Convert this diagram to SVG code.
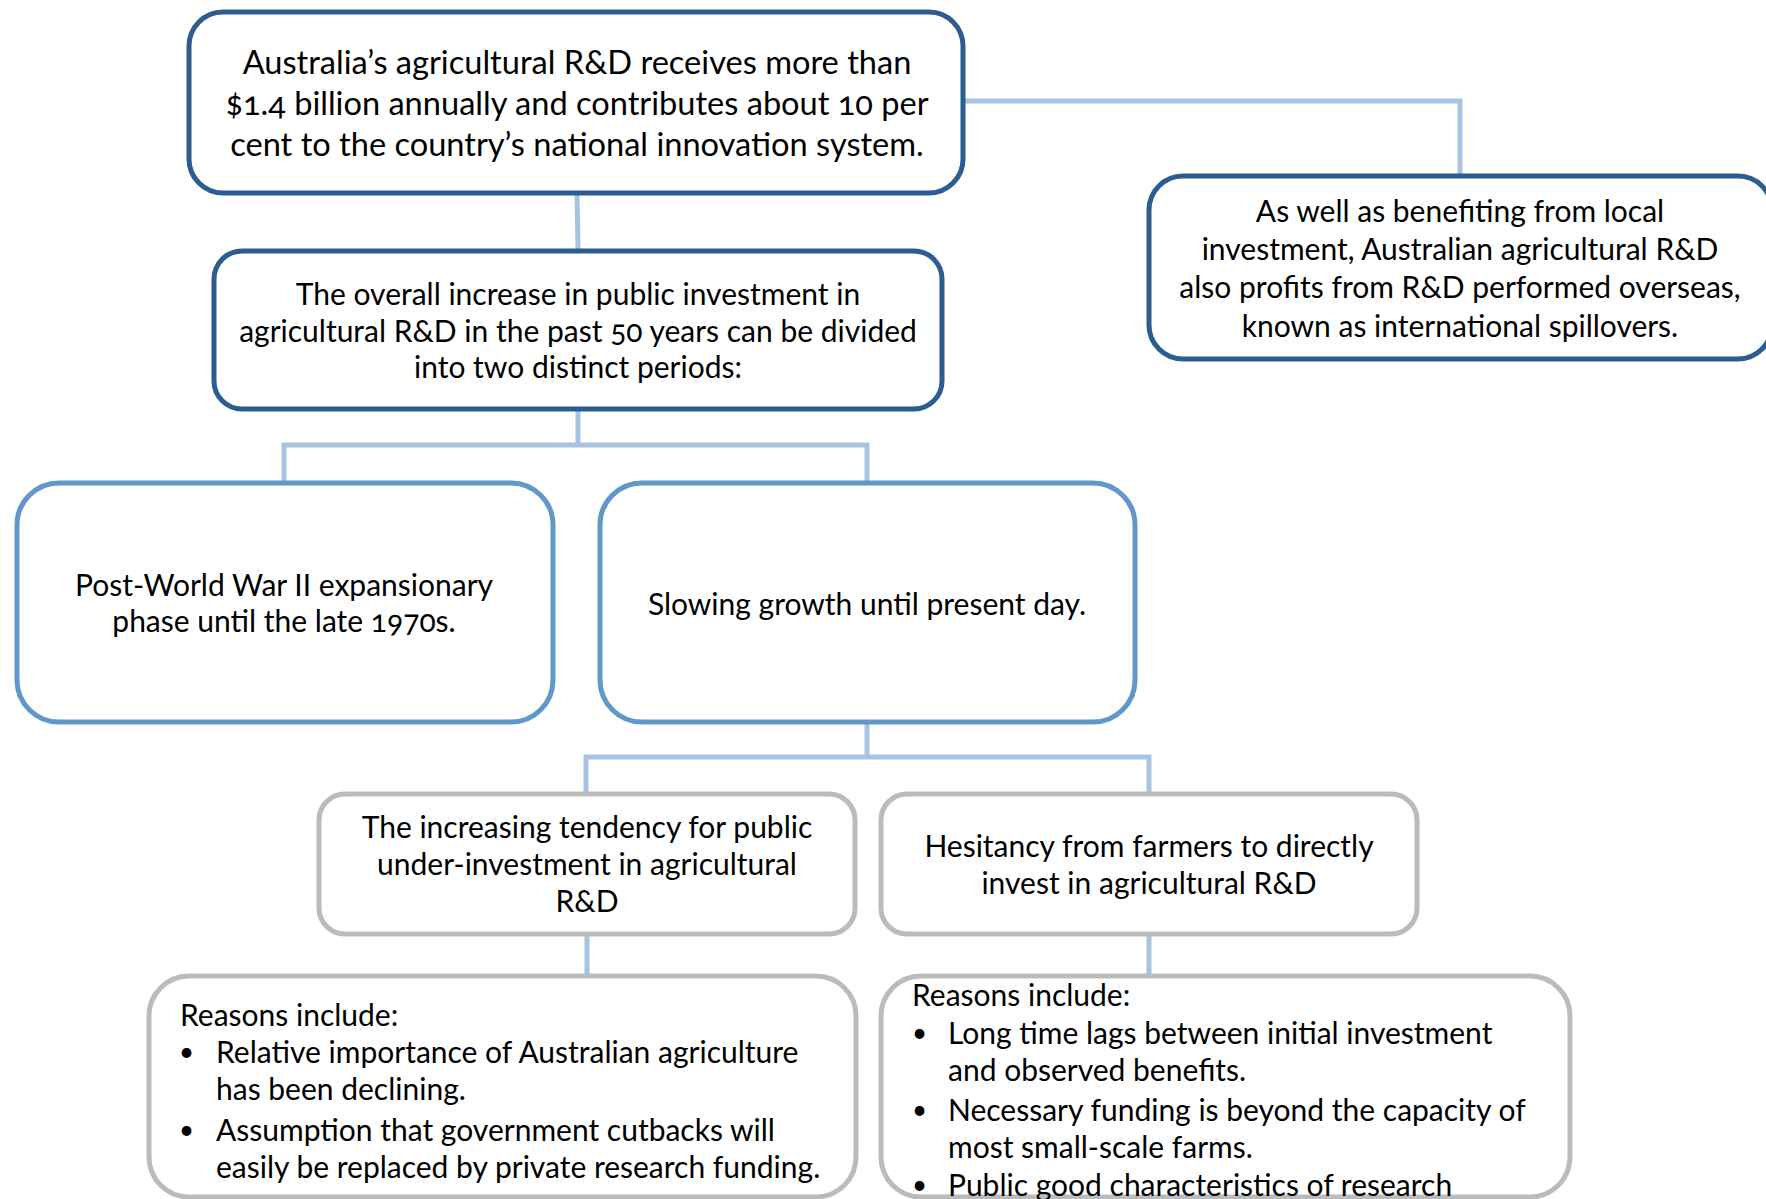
<svg xmlns="http://www.w3.org/2000/svg" width="1766" height="1199" viewBox="0 0 1766 1199">
<style>
.t{font-family:Lato,"Open Sans","Liberation Sans",sans-serif;font-size:30px;fill:#000;font-variant-numeric:oldstyle-nums}
.big{font-size:32.6px}
.b{font-size:26px}
.c{text-anchor:middle}
.dark{fill:#fff;stroke:#2C5D90;stroke-width:5}
.mid{fill:#fff;stroke:#6297CB;stroke-width:5}
.gray{fill:#fff;stroke:#BBBBBB;stroke-width:5}
.conn{fill:none;stroke:#A7C3E2;stroke-width:5}
</style>
<rect width="1766" height="1199" fill="#fff"/>
<g id="connectors">
<path class="conn" d="M963 101 H1460 V176"/>
<path class="conn" d="M577 193 L578 250"/>
<path class="conn" d="M578 409 V445 M284 482 V445 H867 V482"/>
<path class="conn" d="M867 722 V757 M586 793 V757 H1149 V793"/>
<path class="conn" d="M587 934 V975"/>
<path class="conn" d="M1149 934 V975"/>
</g>
<g id="n1">
<rect class="dark" x="189" y="12" width="774" height="181" rx="34"/>
<text class="t big c" x="577" y="74">Australia’s agricultural R&amp;D receives more than</text>
<text class="t big c" x="577" y="115">$1.4 billion annually and contributes about 10 per</text>
<text class="t big c" x="577" y="156">cent to the country’s national innovation system.</text>
</g>
<g id="n2">
<rect class="dark" x="1149" y="176" width="623" height="183" rx="34"/>
<text class="t c" x="1460" y="222">As well as benefiting from local</text>
<text class="t c" x="1460" y="260">investment, Australian agricultural R&amp;D</text>
<text class="t c" x="1460" y="298">also profits from R&amp;D performed overseas,</text>
<text class="t c" x="1460" y="337">known as international spillovers.</text>
</g>
<g id="n3">
<rect class="dark" x="214" y="251" width="728" height="158" rx="28"/>
<text class="t c" x="578" y="305">The overall increase in public investment in</text>
<text class="t c" x="578" y="342">agricultural R&amp;D in the past 50 years can be divided</text>
<text class="t c" x="578" y="378">into two distinct periods:</text>
</g>
<g id="n4">
<rect class="mid" x="17" y="483" width="536" height="239" rx="42"/>
<text class="t c" x="284" y="596">Post-World War II expansionary</text>
<text class="t c" x="284" y="632">phase until the late 1970s.</text>
</g>
<g id="n5">
<rect class="mid" x="600" y="483" width="535" height="239" rx="42"/>
<text class="t c" x="867" y="615">Slowing growth until present day.</text>
</g>
<g id="n6">
<rect class="gray" x="319" y="794" width="536" height="140" rx="26"/>
<text class="t c" x="587" y="838">The increasing tendency for public</text>
<text class="t c" x="587" y="875">under-investment in agricultural</text>
<text class="t c" x="587" y="912">R&amp;D</text>
</g>
<g id="n7">
<rect class="gray" x="881" y="794" width="536" height="140" rx="26"/>
<text class="t c" x="1149" y="857">Hesitancy from farmers to directly</text>
<text class="t c" x="1149" y="894">invest in agricultural R&amp;D</text>
</g>
<g id="n8">
<rect class="gray" x="149" y="976" width="707" height="221" rx="40"/>
<text class="t" x="180" y="1026">Reasons include:</text>
<text class="t b" x="179" y="1061">•</text>
<text class="t" x="216" y="1063">Relative importance of Australian agriculture</text>
<text class="t" x="216" y="1100">has been declining.</text>
<text class="t b" x="179" y="1139">•</text>
<text class="t" x="216" y="1141">Assumption that government cutbacks will</text>
<text class="t" x="216" y="1178">easily be replaced by private research funding.</text>
</g>
<g id="n9">
<rect class="gray" x="881" y="976" width="689" height="221" rx="40"/>
<text class="t" x="912" y="1006">Reasons include:</text>
<text class="t b" x="912" y="1042">•</text>
<text class="t" x="948" y="1044">Long time lags between initial investment</text>
<text class="t" x="948" y="1081">and observed benefits.</text>
<text class="t b" x="912" y="1119">•</text>
<text class="t" x="948" y="1121">Necessary funding is beyond the capacity of</text>
<text class="t" x="948" y="1158">most small-scale farms.</text>
<text class="t b" x="912" y="1194">•</text>
<text class="t" x="948" y="1196">Public good characteristics of research</text>
</g>
</svg>
